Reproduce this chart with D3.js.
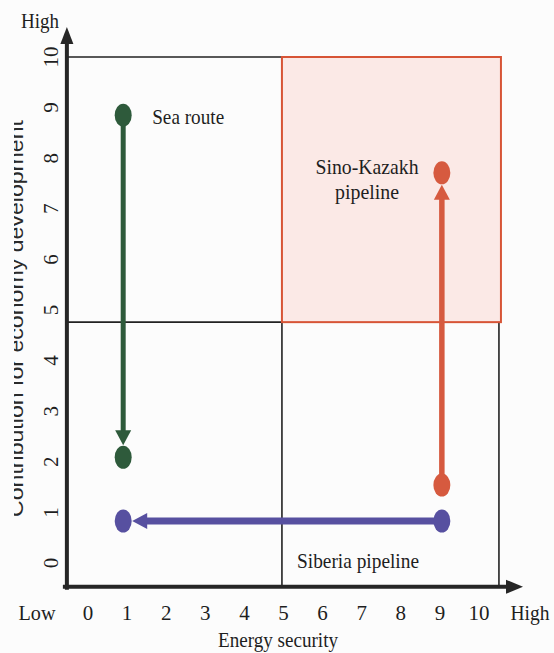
<!DOCTYPE html>
<html>
<head>
<meta charset="utf-8">
<script src="https://cdn.jsdelivr.net/npm/d3@7"></script>
<style>
  html, body { margin: 0; padding: 0; background: #fcfcfc; }
  svg { display: block; }
</style>
</head>
<body>
<svg id="chart" width="554" height="653"></svg>
<script>
// ---- data ----
const xTicks = [0, 1, 2, 3, 4, 5, 6, 7, 8, 9, 10];
const yTicks = [0, 1, 2, 3, 4, 5, 6, 7, 8, 9, 10];
const seriesNames = ["Sea route", "Sino-Kazakh pipeline", "Siberia pipeline"];
const fromX = [0.9, 9.05, 9.05];
const fromY = [8.85, 1.54, 0.83];
const toX   = [0.9, 9.05, 0.9];
const toY   = [2.09, 7.71, 0.83];
const seriesColors = ["#2e5a3b", "#d65a3f", "#5750a0"];
// quadrant frame in data units (left/mid/right, bottom/mid/top)
const frameX = [-0.54, 4.96, 10.51];
const frameY = [-0.47, 4.76, 10];
const axisLow = "Low", axisHigh = "High";
const xTitle = "Energy security";
const yTitle = "Contribution for economy development";

const SERIF = "Liberation Serif";
const SANS = "Liberation Sans";

// ---- scales ----
const x = d3.scaleLinear().domain([0, 10]).range([88, 479]);
const y = d3.scaleLinear().domain([0, 10]).range([563, 57]);

const svg = d3.select("#chart");
const defs = svg.append("defs");
defs.append("clipPath").attr("id", "leftcut")
  .append("rect").attr("x", 14).attr("y", 0).attr("width", 60).attr("height", 653);

// quadrant frame
const fx0 = x(frameX[0]), fxm = x(frameX[1]), fx1 = x(frameX[2]);
const fy0 = y(frameY[0]), fym = y(frameY[1]), fy1 = y(frameY[2]);
const frame = svg.append("g").attr("stroke", "#222").attr("stroke-width", 1.6).attr("fill", "none");
frame.append("line").attr("x1", fx0).attr("x2", fx1).attr("y1", fy1).attr("y2", fy1);
frame.append("line").attr("x1", fx1).attr("x2", fx1).attr("y1", fy1).attr("y2", fy0);
frame.append("line").attr("x1", fxm).attr("x2", fxm).attr("y1", fy1).attr("y2", fy0);
frame.append("line").attr("x1", fx0).attr("x2", fx1).attr("y1", fym).attr("y2", fym);

// highlighted quadrant (high/high)
svg.append("rect")
  .attr("x", fxm).attr("y", fy1)
  .attr("width", fx1 - fxm + 2).attr("height", fym - fy1)
  .attr("fill", "#fbe9e6").attr("stroke", "#d75436").attr("stroke-width", 2);

// axes with arrows
const axisColor = "#262626";
svg.append("line").attr("x1", fx0).attr("x2", fx0).attr("y1", fy0 + 3).attr("y2", 42)
  .attr("stroke", axisColor).attr("stroke-width", 4);
svg.append("path").attr("d", `M${fx0},27 L${fx0 - 6.5},44 L${fx0 + 6.5},44 Z`).attr("fill", axisColor);
svg.append("line").attr("x1", fx0 - 4).attr("x2", 508).attr("y1", fy0).attr("y2", fy0)
  .attr("stroke", axisColor).attr("stroke-width", 4);
svg.append("path").attr("d", `M523,${fy0} L506,${fy0 - 7} L506,${fy0 + 7} Z`).attr("fill", axisColor);

function txt(sel) { return sel.attr("font-family", SERIF).attr("fill", "#1e1e1e"); }

// x tick labels
txt(svg.append("g").selectAll("text").data(xTicks).join("text"))
  .attr("x", d => x(d)).attr("y", 620)
  .attr("text-anchor", "middle").attr("font-size", 21)
  .text(d => d);
txt(svg.append("text")).attr("x", 37).attr("y", 620).attr("text-anchor", "middle")
  .attr("font-size", 21).attr("textLength", 37).attr("lengthAdjust", "spacingAndGlyphs").text(axisLow);
txt(svg.append("text")).attr("x", 530).attr("y", 620).attr("text-anchor", "middle")
  .attr("font-size", 21).attr("textLength", 39).attr("lengthAdjust", "spacingAndGlyphs").text(axisHigh);
txt(svg.append("text")).attr("x", 278).attr("y", 647).attr("text-anchor", "middle")
  .attr("font-size", 20).attr("textLength", 120).attr("lengthAdjust", "spacingAndGlyphs").text(xTitle);

// y tick labels (rotated)
txt(svg.append("g").selectAll("text").data(yTicks).join("text"))
  .attr("transform", d => `translate(58,${y(d)}) rotate(-90)`)
  .attr("text-anchor", "middle").attr("font-size", 21)
  .text(d => d);
txt(svg.append("text")).attr("x", 40).attr("y", 28).attr("text-anchor", "middle")
  .attr("font-size", 21).attr("textLength", 38).attr("lengthAdjust", "spacingAndGlyphs").text(axisHigh);

// y title, cut by the scan edge
svg.append("g").attr("clip-path", "url(#leftcut)")
  .append("text")
  .attr("transform", `translate(23,${(120 + 517) / 2}) rotate(-90)`)
  .attr("text-anchor", "middle")
  .attr("font-family", SANS).attr("fill", "#2a2a2a")
  .attr("font-size", 21).attr("textLength", 397).attr("lengthAdjust", "spacingAndGlyphs")
  .text(yTitle);

// series arrows
const lineWidths = [5, 5.5, 7];
const headLen = 15, headHalf = 8;
const rx = 8.5, ry = 11.5;
seriesNames.forEach((name, i) => {
  const sx = x(fromX[i]), sy = y(fromY[i]);
  const ex = x(toX[i]), ey = y(toY[i]);
  const dx = ex - sx, dy = ey - sy;
  const len = Math.hypot(dx, dy);
  const ux = dx / len, uy = dy / len;
  const r = Math.abs(ux) * rx + Math.abs(uy) * ry;
  const tx = ex - ux * (r + 0.5), ty = ey - uy * (r + 0.5);
  const bx = tx - ux * headLen, by = ty - uy * headLen;
  const g = svg.append("g");
  g.append("line").attr("x1", sx).attr("y1", sy).attr("x2", bx + ux * 2).attr("y2", by + uy * 2)
    .attr("stroke", seriesColors[i]).attr("stroke-width", lineWidths[i]);
  g.append("path")
    .attr("d", `M${tx},${ty} L${bx - uy * headHalf},${by + ux * headHalf} L${bx + uy * headHalf},${by - ux * headHalf} Z`)
    .attr("fill", seriesColors[i]);
  g.append("ellipse").attr("cx", sx).attr("cy", sy).attr("rx", rx).attr("ry", ry).attr("fill", seriesColors[i]);
  g.append("ellipse").attr("cx", ex).attr("cy", ey).attr("rx", rx).attr("ry", ry).attr("fill", seriesColors[i]);
});

// series labels
txt(svg.append("text")).attr("x", x(fromX[0]) + 29).attr("y", y(fromY[0]) + 9)
  .attr("font-size", 21).attr("textLength", 72).attr("lengthAdjust", "spacingAndGlyphs")
  .text(seriesNames[0]);
const skWords = seriesNames[1].split(" ");
txt(svg.append("text")).attr("x", 367).attr("y", y(toY[1]) + 1).attr("text-anchor", "middle")
  .attr("font-size", 22).attr("textLength", 103).attr("lengthAdjust", "spacingAndGlyphs")
  .text(skWords[0]);
txt(svg.append("text")).attr("x", 367).attr("y", y(toY[1]) + 26).attr("text-anchor", "middle")
  .attr("font-size", 22).attr("textLength", 64).attr("lengthAdjust", "spacingAndGlyphs")
  .text(skWords[1]);
txt(svg.append("text")).attr("x", 297).attr("y", 568)
  .attr("font-size", 21).attr("textLength", 122).attr("lengthAdjust", "spacingAndGlyphs")
  .text(seriesNames[2]);
</script>
</body>
</html>
